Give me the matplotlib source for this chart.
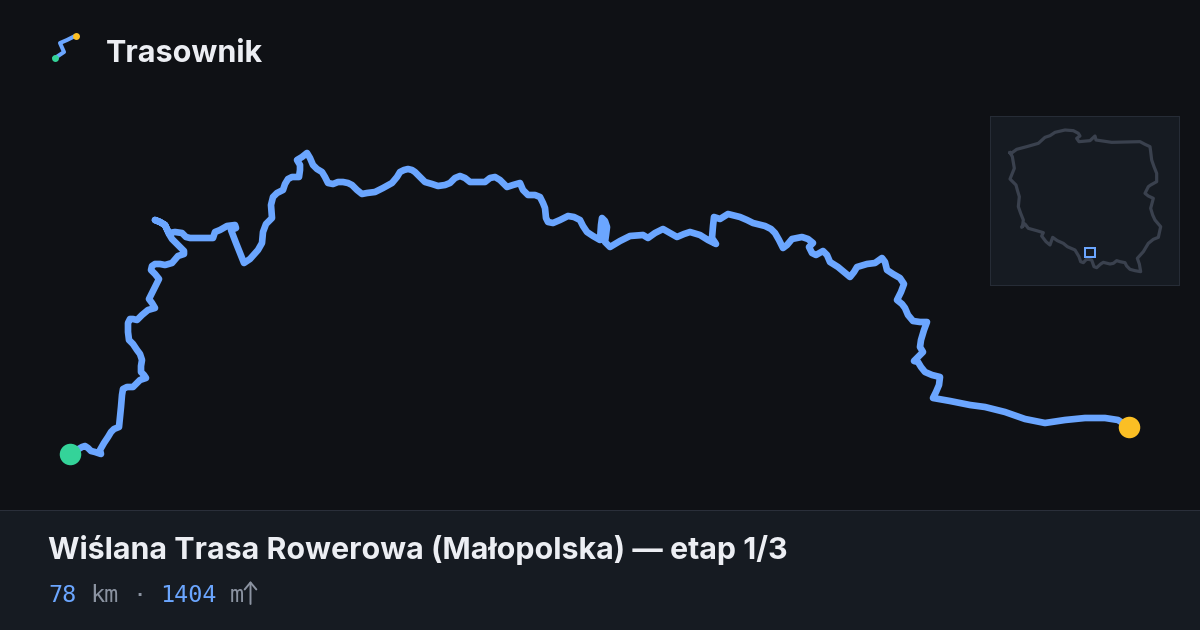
import matplotlib
matplotlib.use("Agg")
import matplotlib.pyplot as plt
from matplotlib.patches import Rectangle

BG = "#0f1115"
PANEL = "#161b22"
BLUE = "#6ba6ff"

route = [(70.2,454),(82,447),(85,446),(88,448),(91,451),(95,452),(101,454),(100,450),(104,443),(108,437),(111,432),(114,429),(119,427),(120,417),(121,407),(122,395),(123,389),(127,387),(133,387),(137,383),(140,380),(146,378),(144,375),(141,372),(141,366),(142,360),(140,354),(137,350),(133,344),(129,340),(128,332),(128,323),(130,319),(133,319),(137,320),(142,315),(148,310),(155,308),(152,303),(149,299),(154,289),(159,279),(155,274),(151,270),(152,266),(155,264),(160,264),(165,265),(172,263),(178,256),(184,254),(184,251),(181,248),(172,239),(169,234),(165,225),(160,222),(155,220),(160,222),(165,225),(169,233),(175,232),(182,233),(186,237),(190,238),(213,238),(215,232),(220,230),(227,226),(235,225),(236,228),(231,230),(236,243),(244,263),(250,259),(258,250),(262,243),(263,232),(266,224),(272,218),(271,205),(273,197),(277,193),(283,190),(285,184),(288,179),(292,177),(299,177),(300,170),(300,165),(297,160),(302,157),(307,153),(310,158),(313,165),(317,169),(322,172),(325,177),(328,183),(333,184),(338,182),(343,182),(348,183),(352,185),(357,190),(362,194),(367,193),(375,192),(383,188),(392,183),(397,177),(400,172),(404,170),(408,169),(412,170),(415,172),(420,177),(425,182),(432,184),(438,186),(445,185),(450,183),(455,178),(460,176),(465,178),(470,182),(485,182),(490,178),(495,177),(500,180),(507,187),(513,185),(520,183),(523,190),(528,195),(535,195),(540,197),(543,203),(545,208),(546,218),(548,222),(553,223),(560,220),(568,216),(574,217),(580,220),(583,226),(587,232),(593,236),(600,240),(601,225),(602,218),(605,221),(607,227),(606,235),(605,242),(610,247),(620,241),(630,236),(643,235),(648,238),(655,233),(663,229),(670,233),(677,237),(684,234),(690,232),(700,235),(708,240),(716,244),(712,238),(713,226),(714,217),(720,219),(728,214),(740,217),(747,220),(753,223),(765,226),(771,229),(775,233),(779,240),(783,248),(787,245),(792,239),(802,237),(808,239),(813,243),(809,247),(812,253),(816,255),(823,251),(827,255),(830,262),(838,267),(844,272),(850,277),(854,272),(857,267),(867,264),(875,263),(882,258),(885,262),(887,270),(893,274),(900,278),(904,284),(901,292),(897,300),(902,304),(905,308),(908,315),(913,321),(920,322),(927,322),(924,330),(921,340),(920,347),(923,352),(918,357),(914,361),(918,362),(921,367),(925,372),(932,375),(940,377),(939,385),(936,392),(933,398),(950,401),(970,405),(985,407),(1005,412),(1025,419),(1045,423),(1065,420),(1085,418),(1105,418),(1118,420),(1129,427)]

border = [(90,128),(95,129),(110,118),(140,110),(175,100),(195,82),(210,77),(225,67),(255,60),(280,62),(295,70),(300,78),(290,85),(297,95),(330,92),(345,78),(348,90),(395,97),(480,95),(495,103),(510,110),(512,125),(515,150),(522,170),(530,190),(530,215),(512,225),(505,230),(495,250),(505,258),(520,265),(512,295),(518,315),(525,330),(542,350),(535,382),(520,388),(505,400),(490,425),(472,445),(478,462),(482,485),(465,482),(450,478),(440,468),(435,458),(420,455),(410,452),(400,460),(390,462),(370,457),(362,462),(350,473),(342,470),(335,450),(325,448),(322,445),(310,458),(302,455),(297,440),(285,420),(262,410),(250,400),(232,392),(218,382),(210,405),(198,395),(185,378),(190,368),(170,362),(145,355),(135,342),(125,352),(128,345),(130,330),(122,310),(115,290),(118,260),(112,240),(108,225),(90,207),(103,175),(97,140),(90,128)]

logo = [(55,58),(64,52),(60,43),(67,40),(73,37)]

brand = "Trasownik"
title = "Wiślana Trasa Rowerowa (Małopolska) — etap 1/3"
distance = "78"
distance_unit = "km"
climb = "1404"
climb_unit = "m"

route_x, route_y = zip(*route)
border_x, border_y = zip(*border)
logo_x, logo_y = zip(*logo)

fig = plt.figure(figsize=(12, 6.3), dpi=100, facecolor=BG)
ax = fig.add_axes([0, 0, 1, 1])
ax.set_xlim(0, 1200)
ax.set_ylim(630, 0)
ax.axis("off")

# footer
ax.add_patch(Rectangle((0, 510), 1200, 120, fc=PANEL, ec="none", zorder=1))
ax.add_patch(Rectangle((0, 510), 1200, 1, fc="#2a2f3a", ec="none", zorder=2))

# route
ax.plot(route_x, route_y, color=BLUE, lw=4.8, solid_joinstyle="round",
        solid_capstyle="round", zorder=3)
ax.scatter(route_x[0], route_y[0], s=240, color="#34d399", lw=0, zorder=4)
ax.scatter(route_x[-1], route_y[-1], s=240, color="#fbbf24", lw=0, zorder=4)

# inset
ax.add_patch(Rectangle((990, 116), 190, 170, fc="#262c36", ec="none", zorder=2))
ax.add_patch(Rectangle((991, 117), 188, 168, fc=PANEL, ec="none", zorder=2))
ax.plot([980 + v / 3 for v in border_x], [110 + v / 3 for v in border_y],
        color="#3a414e", lw=2.3, solid_joinstyle="round", zorder=3)
ax.add_patch(Rectangle((1085.3, 247.5), 9.4, 9.4, fc="none", ec=BLUE, lw=1.44, zorder=4))

# logo
ax.plot(logo_x, logo_y, color=BLUE, lw=2.9, solid_joinstyle="round", zorder=3)
ax.scatter(logo_x[0], logo_y[0], s=25, color="#34d399", lw=0, zorder=4)
ax.scatter(76, 36, s=25, color="#fbbf24", lw=0, zorder=4)

# text
sans = ["Inter", "DejaVu Sans"]
mono = ["DejaVu Sans Mono"]
ax.text(105.5, 51.5, brand, family=sans, weight="bold", fontsize=22, color="#eceef3",
        va="center_baseline", ha="left", zorder=5)
ax.text(47.5, 547, title, family=sans, weight="bold", fontsize=21.9, color="#eceef3",
        va="center_baseline", ha="left", zorder=5)
GREY = "#8b93a1"
ms = 16.9
for x, s, c in [(48, distance, BLUE), (90, distance_unit, GREY), (132, "·", GREY),
                (160, climb, BLUE), (230, climb_unit, GREY)]:
    ax.text(x, 602, s, family=mono, fontsize=ms, color=c, va="baseline", ha="left", zorder=5)
ax.annotate("", xy=(250.5, 581), xytext=(250.5, 604), zorder=5,
            arrowprops=dict(arrowstyle="->,head_width=0.42,head_length=0.5", color=GREY,
                            lw=1.4, shrinkA=0, shrinkB=0))

fig.savefig("out.png", dpi=100, facecolor=BG)
